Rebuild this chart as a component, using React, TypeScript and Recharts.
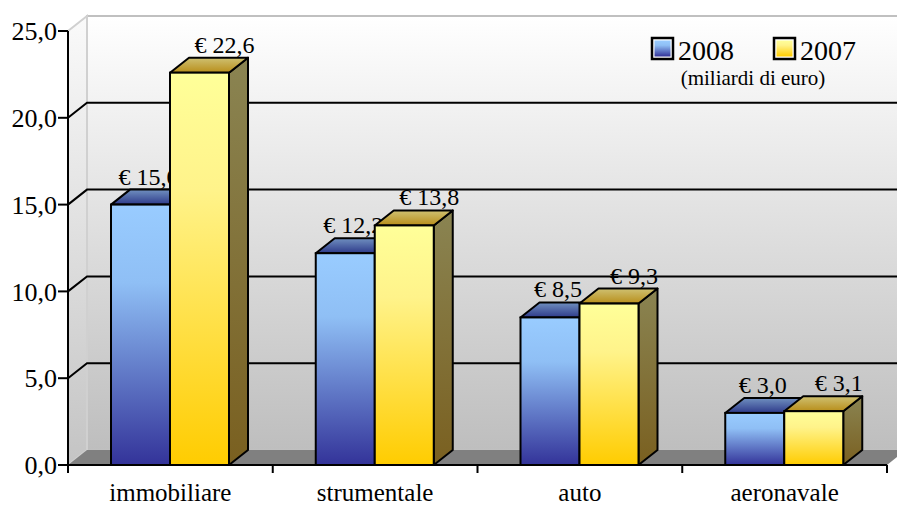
import React from 'react';
import { BarChart, Bar, XAxis, YAxis, CartesianGrid, Legend } from 'recharts';

// categorie e valori (miliardi di euro)
const categories = ['immobiliare', 'strumentale', 'auto', 'aeronavale'];
const values2008 = [15.0, 12.2, 8.5, 3.0];
const values2007 = [22.6, 13.8, 9.3, 3.1];
const yTicks = [0, 5, 10, 15, 20, 25];
const seriesKeys = ['y2008', 'y2007'];
const unitNote = '(miliardi di euro)';

const data = categories.map((name, i) => ({
  name,
  y2008: values2008[i],
  y2007: values2007[i],
}));

const W = 897;
const H = 506;
const LEFT = 68;
const RIGHT = 887;
const TOP = 31;
const BOTTOM = 465;
// profondità della prospettiva 3D
const DX = 19;
const DY = 15;
const FONT = 'Liberation Serif, Tinos, DejaVu Serif, serif';

const fmt = (v: number) => v.toFixed(1).replace('.', ',');

// pareti e pavimento dietro al grafico
const Walls = () => (
  <svg width={W} height={H} style={{ position: 'absolute', left: 0, top: 0 }}>
    <defs>
      <linearGradient id="backWall" x1="0" y1="0" x2="0" y2="1">
        <stop offset="0" stopColor="#ffffff" />
        <stop offset="1" stopColor="#bebebe" />
      </linearGradient>
      <linearGradient id="sideWall" x1="0" y1="0" x2="0" y2="1">
        <stop offset="0" stopColor="#fafafa" />
        <stop offset="1" stopColor="#c4c4c4" />
      </linearGradient>
    </defs>
    <rect x={LEFT + DX} y={TOP - DY} width={W} height={BOTTOM - TOP} fill="url(#backWall)" stroke="#c0c0c0" strokeWidth={2} />
    <polygon
      points={`${LEFT},${TOP} ${LEFT + DX},${TOP - DY} ${LEFT + DX},${BOTTOM - DY} ${LEFT},${BOTTOM}`}
      fill="url(#sideWall)"
      stroke="#d0d0d0"
      strokeWidth={2}
    />
    <polygon
      points={`${LEFT},${BOTTOM} ${LEFT + DX},${BOTTOM - DY} ${RIGHT + DX},${BOTTOM - DY} ${RIGHT},${BOTTOM}`}
      fill="#808080"
    />
  </svg>
);

const make3DBar = (key: 'y2008' | 'y2007', front: string, top: string, side: string, labelShift: number) =>
  (props: any) => {
    const { x, y, width, height, payload } = props;
    const r = x + width;
    const b = y + height;
    return (
      <g>
        <polygon
          points={`${r},${y} ${r + DX},${y - DY} ${r + DX},${b - DY} ${r},${b}`}
          fill={`url(#${side})`}
          stroke="#000"
          strokeWidth={2}
          strokeLinejoin="round"
        />
        <polygon
          points={`${x},${y} ${x + DX},${y - DY} ${r + DX},${y - DY} ${r},${y}`}
          fill={`url(#${top})`}
          stroke="#000"
          strokeWidth={2}
          strokeLinejoin="round"
        />
        <rect x={x} y={y} width={width} height={height} fill={`url(#${front})`} stroke="#000" strokeWidth={2} />
        <text
          x={x + width / 2 + labelShift}
          y={y - DY - 5}
          textAnchor="middle"
          fill="#000"
          style={{ fontFamily: FONT, fontSize: 24 }}
        >
          {`€ ${fmt(payload[key])}`}
        </text>
      </g>
    );
  };

const bar2008 = make3DBar('y2008', 'blueFront', 'blueTop', 'blueSide', 8);
const bar2007 = make3DBar('y2007', 'yellowFront', 'yellowTop', 'yellowSide', 25);

const gridLine = (p: any) => {
  const y = p.y1;
  if (Math.abs(y - TOP) < 1 || Math.abs(y - BOTTOM) < 1) return <g key={p.key} />;
  return (
    <polyline
      key={p.key}
      points={`${p.x1},${y} ${p.x1 + DX},${y - DY} ${W},${y - DY}`}
      fill="none"
      stroke="#000"
      strokeWidth={2}
    />
  );
};

const CategoryTick = (p: any) => {
  const { x, payload, index } = p;
  const half = (RIGHT - LEFT) / categories.length / 2;
  return (
    <g>
      <line x1={x - half} y1={BOTTOM} x2={x - half} y2={BOTTOM + 8} stroke="#000" strokeWidth={2} />
      {index === categories.length - 1 && (
        <line x1={x + half} y1={BOTTOM} x2={x + half} y2={BOTTOM + 8} stroke="#000" strokeWidth={2} />
      )}
      <text x={x} y={BOTTOM + 36} textAnchor="middle" fill="#000" style={{ fontFamily: FONT, fontSize: 25 }}>
        {payload.value}
      </text>
    </g>
  );
};

const swatchFill: Record<string, string> = { y2008: 'blueFront', y2007: 'yellowFront' };

const LegendBox = (props: any) => {
  const payload = props.payload || [];
  const items = seriesKeys
    .map((k) => payload.find((it: any) => it.dataKey === k))
    .filter(Boolean);
  return (
    <svg width={260} height={70} style={{ overflow: 'visible' }}>
      {items.map((it: any, i: number) => {
        const sx = 12 + i * 122;
        return (
          <g key={it.dataKey}>
            <rect x={sx} y={10} width={21} height={21} fill="#fff" stroke="#000" strokeWidth={2.5} />
            <rect x={sx + 2.5} y={12.5} width={16} height={16} fill={`url(#${swatchFill[it.dataKey]})`} />
            <text x={sx + 26} y={32} fill="#000" style={{ fontFamily: FONT, fontSize: 28 }}>
              {it.value}
            </text>
          </g>
        );
      })}
      <text x={113} y={57} textAnchor="middle" fill="#000" style={{ fontFamily: FONT, fontSize: 21 }}>
        {unitNote}
      </text>
    </svg>
  );
};

export default function App() {
  return (
    <div style={{ position: 'absolute', left: 0, top: 0, width: W, height: H, background: '#fff', fontFamily: FONT }}>
      <Walls />
      <div style={{ position: 'absolute', left: 0, top: 0 }}>
        <BarChart
          width={W}
          height={H}
          data={data}
          margin={{ top: TOP, right: W - RIGHT, bottom: H - BOTTOM - 30, left: LEFT - 60 }}
          barGap={0}
        >
          <defs>
            <linearGradient id="blueFront" x1="0" y1="0" x2="0" y2="1">
              <stop offset="0" stopColor="#99ccff" />
              <stop offset="0.3" stopColor="#8fbff5" />
              <stop offset="1" stopColor="#333399" />
            </linearGradient>
            <linearGradient id="blueTop" x1="0" y1="0" x2="0" y2="1">
              <stop offset="0" stopColor="#7090c0" />
              <stop offset="1" stopColor="#2e3a8a" />
            </linearGradient>
            <linearGradient id="blueSide" x1="0" y1="0" x2="0" y2="1">
              <stop offset="0" stopColor="#3a4a90" />
              <stop offset="1" stopColor="#222266" />
            </linearGradient>
            <linearGradient id="yellowFront" x1="0" y1="0" x2="0" y2="1">
              <stop offset="0" stopColor="#ffff99" />
              <stop offset="0.3" stopColor="#fff38a" />
              <stop offset="1" stopColor="#ffcc00" />
            </linearGradient>
            <linearGradient id="yellowTop" x1="0" y1="0" x2="0" y2="1">
              <stop offset="0" stopColor="#cfc172" />
              <stop offset="1" stopColor="#b88e1a" />
            </linearGradient>
            <linearGradient id="yellowSide" x1="0" y1="0" x2="0" y2="1">
              <stop offset="0" stopColor="#8a8452" />
              <stop offset="1" stopColor="#7a6020" />
            </linearGradient>
          </defs>
          <CartesianGrid vertical={false} horizontal={gridLine} />
          <XAxis
            dataKey="name"
            height={30}
            interval={0}
            axisLine={{ stroke: '#000', strokeWidth: 2 }}
            tickLine={false}
            tick={<CategoryTick />}
          />
          <YAxis
            width={60}
            domain={[0, 25]}
            ticks={yTicks}
            interval={0}
            tickFormatter={fmt}
            tickSize={10}
            tickMargin={1}
            axisLine={{ stroke: '#000', strokeWidth: 2 }}
            tickLine={{ stroke: '#000', strokeWidth: 2 }}
            tick={{ fill: '#000', fontSize: 26, fontFamily: FONT }}
          />
          <Legend
            layout="horizontal"
            verticalAlign="middle"
            content={<LegendBox />}
            wrapperStyle={{ left: 640, top: 28, width: 260, height: 70 }}
          />
          <Bar dataKey="y2008" name="2008" barSize={59} shape={bar2008} isAnimationActive={false} />
          <Bar dataKey="y2007" name="2007" barSize={59} shape={bar2007} isAnimationActive={false} />
        </BarChart>
      </div>
    </div>
  );
}
